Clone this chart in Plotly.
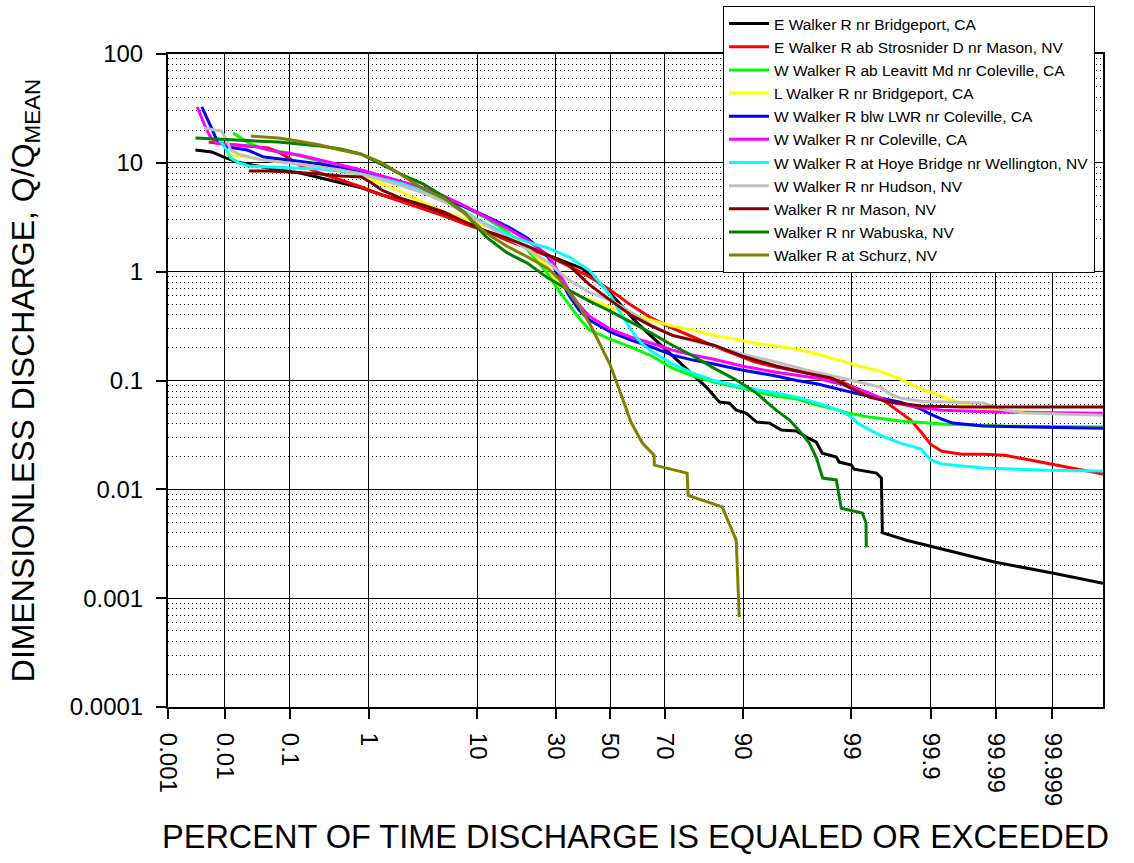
from statistics import NormalDist
import plotly.graph_objects as go

# ---------------- data (percent of time exceeded, Q/Qmean) ----------------
names = [
    "E Walker R nr Bridgeport, CA",
    "E Walker R ab Strosnider D nr Mason, NV",
    "W Walker R ab Leavitt Md nr Coleville, CA",
    "L Walker R nr Bridgeport, CA",
    "W Walker R blw LWR nr Coleville, CA",
    "W Walker R nr Coleville, CA",
    "W Walker R at Hoye Bridge nr Wellington, NV",
    "W Walker R nr Hudson, NV",
    "Walker R nr Mason, NV",
    "Walker R nr Wabuska, NV",
    "Walker R at Schurz, NV",
]
colors = ["#000000", "#FF0000", "#00FF00", "#FFFF00", "#0000FF", "#FF00FF",
          "#00FFFF", "#C0C0C0", "#800000", "#008000", "#808000"]

black_p = [0.00317, 0.0061, 0.0097, 0.0159, 0.0337, 0.0687, 0.135, 0.256, 0.466, 0.82,
           1.39, 2.275, 3.59, 5.48, 8.08, 11.51, 15.87, 21.19, 27.43, 34.46,
           39.4, 44.6, 50.0, 59.9, 69.9, 76.9, 82.3, 85.4, 87.5, 88.8,
           90.5, 92.1, 93.8, 95.06, 96.37, 97.08, 97.66, 97.96, 98.54, 98.64,
           99.0, 99.07, 99.49, 99.555, 99.567, 99.786, 99.90, 99.9899, 99.999, 99.9999]
black_q = [13.1, 12.6, 11.3, 10.2, 9.35, 8.6, 8.1, 7.25, 6.5, 5.9,
           5.06, 4.46, 3.84, 3.31, 2.86, 2.36, 2.04, 1.68, 1.42, 1.20,
           1.07, 0.837, 0.636, 0.344, 0.199, 0.13, 0.087, 0.0633, 0.062, 0.0534,
           0.0502, 0.0415, 0.0406, 0.035, 0.0343, 0.0302, 0.0271, 0.0215, 0.0198, 0.0178,
           0.0167, 0.0153, 0.0141, 0.0127, 0.0040, 0.00341, 0.0030, 0.00214, 0.0017, 0.00137]

red_p = [0.0054, 0.0097, 0.0233, 0.0483, 0.0687, 0.0968, 0.135, 0.256, 0.466, 0.82,
         1.39, 2.275, 3.59, 5.48, 8.08, 11.51, 15.87, 21.19, 27.43, 34.46,
         42.07, 50.0, 53.98, 57.93, 65.54, 72.57, 78.81, 84.13, 88.49, 91.92,
         94.52, 96.41, 97.725, 98.61, 99.18, 99.534, 99.653, 99.744, 99.813, 99.865,
         99.90, 99.931, 99.966, 99.984, 99.9928, 99.99683, 99.99867, 99.99946, 99.99979, 99.9999]
red_q = [15.5, 14.9, 14.3, 13.7, 12.6, 11.1, 9.55, 8.06, 6.95, 6.0,
         5.06, 4.37, 3.76, 3.24, 2.74, 2.36, 1.95, 1.65, 1.39, 1.13,
         0.90, 0.68, 0.58, 0.493, 0.374, 0.303, 0.251, 0.207, 0.175, 0.148,
         0.133, 0.122, 0.112, 0.1, 0.0834, 0.0689, 0.0594, 0.0512, 0.0433, 0.0335,
         0.026, 0.0224, 0.021, 0.021, 0.0206, 0.019, 0.0174, 0.016, 0.0147, 0.0138]

lime_p = [0.0137, 0.0233, 0.0337, 0.0483, 0.0968, 0.256, 0.466, 0.82, 1.39, 2.275,
          3.59, 5.48, 8.08, 11.51, 15.87, 21.19, 27.43, 30.85, 34.46, 38.21,
          42.07, 50.0, 57.93, 65.54, 72.57, 78.81, 84.13, 89.8, 94.52, 96.41,
          97.725, 98.61, 98.928, 99.379, 99.744, 99.931, 99.9928, 99.9999]
lime_q = [18.8, 15.5, 14.0, 13.1, 12.3, 10.4, 9.35, 8.23, 7.25, 6.52,
          5.75, 4.85, 3.93, 3.11, 2.36, 1.6, 0.95, 0.678, 0.504, 0.374,
          0.291, 0.24, 0.203, 0.168, 0.13, 0.11, 0.0967, 0.085, 0.072, 0.0675,
          0.0594, 0.0534, 0.050, 0.0461, 0.0424, 0.0398, 0.0381, 0.0373]

yellow_p = [0.0105, 0.0233, 0.0483, 0.0968, 0.256, 0.466, 0.82, 1.39, 2.275, 3.59,
            5.48, 8.08, 11.51, 15.87, 21.19, 27.43, 30.85, 38.21, 50.0, 57.93,
            65.54, 72.57, 78.81, 84.13, 88.49, 91.92, 94.52, 96.41, 97.725, 98.61,
            99.18, 99.534, 99.744, 99.865, 99.931, 99.966, 99.984, 99.9928, 99.99867, 99.9999]
yellow_q = [11.8, 11.3, 10.8, 10.2, 9.15, 8.4, 7.56, 6.45, 5.32, 4.29,
            3.54, 3.06, 2.63, 2.22, 1.65, 1.10, 0.753, 0.597, 0.473, 0.408,
            0.359, 0.316, 0.291, 0.26, 0.24, 0.22, 0.207, 0.194, 0.175, 0.154,
            0.136, 0.122, 0.103, 0.0834, 0.072, 0.0607, 0.0557, 0.0524, 0.0502, 0.049]

blue_p = [0.0041, 0.00481, 0.0059, 0.0074, 0.0108, 0.0233, 0.042, 0.0968, 0.256, 0.466,
          0.82, 1.39, 2.275, 3.59, 5.48, 8.08, 11.51, 15.87, 21.19, 27.43,
          30.85, 34.46, 38.21, 42.07, 50.0, 57.93, 65.54, 72.57, 78.81, 84.13,
          89.8, 94.52, 96.41, 97.725, 98.61, 99.18, 99.534, 99.744, 99.865, 99.90,
          99.931, 99.952, 99.984, 99.99867, 99.9999]
blue_q = [32.6, 27.5, 21.4, 16.2, 14.0, 13.1, 11.3, 10.6, 9.75, 8.96,
          8.06, 7.1, 6.25, 5.5, 4.75, 3.93, 3.24, 2.63, 2.04, 1.37,
          0.93, 0.61, 0.444, 0.359, 0.279, 0.235, 0.203, 0.171, 0.154, 0.142,
          0.125, 0.11, 0.1, 0.0927, 0.0834, 0.075, 0.069, 0.0633, 0.0546, 0.049,
          0.0442, 0.0406, 0.0381, 0.0373, 0.0365]

magenta_p = [0.0034, 0.0039, 0.00481, 0.0059, 0.00723, 0.0159, 0.0337, 0.0687, 0.135, 0.256,
             0.466, 0.82, 1.39, 2.275, 3.59, 5.48, 8.08, 11.51, 15.87, 21.19,
             27.43, 30.85, 34.46, 38.21, 42.07, 50.0, 57.93, 65.54, 72.57, 78.81,
             84.13, 89.8, 94.52, 97.725, 98.928, 99.379, 99.653, 99.813, 99.931, 99.9928,
             99.9999]
magenta_q = [32.6, 27.5, 20.9, 16.9, 15.2, 14.6, 14.0, 12.6, 11.8, 10.6,
             9.55, 8.6, 7.56, 6.66, 5.87, 4.95, 4.0, 3.17, 2.52, 1.95,
             1.42, 1.0, 0.678, 0.493, 0.39, 0.296, 0.25, 0.22, 0.19, 0.171,
             0.157, 0.136, 0.119, 0.105, 0.0888, 0.0766, 0.0633, 0.0582, 0.0534, 0.0512,
             0.050]

cyan_p = [0.0075, 0.0088, 0.0108, 0.0126, 0.0171, 0.025, 0.0483, 0.0968, 0.256, 0.466,
          0.82, 1.39, 2.275, 3.59, 5.48, 8.08, 11.51, 15.87, 21.19, 27.43,
          34.46, 42.07, 46.02, 50.0, 53.98, 57.93, 61.79, 65.54, 72.57, 78.81,
          84.13, 89.8, 94.52, 96.41, 97.725, 98.61, 98.928, 99.18, 99.534, 99.744,
          99.865, 99.90, 99.931, 99.984, 99.99867, 99.9999]
cyan_q = [17.0, 15.5, 13.1, 11.1, 10.0, 9.35, 9.15, 8.96, 8.77, 8.4,
          7.9, 7.1, 6.4, 5.5, 4.55, 3.53, 2.74, 2.22, 1.87, 1.65,
          1.37, 1.03, 0.80, 0.61, 0.417, 0.291, 0.22, 0.186, 0.142, 0.117,
          0.1, 0.087, 0.0766, 0.0704, 0.062, 0.0534, 0.0481, 0.0398, 0.0315, 0.0266,
          0.0234, 0.0186, 0.0171, 0.0157, 0.015, 0.0147]

gray_p = [0.0044, 0.00723, 0.0088, 0.0108, 0.0126, 0.0171, 0.0337, 0.0687, 0.135, 0.256,
          0.466, 0.82, 1.39, 2.275, 3.59, 5.48, 8.08, 11.51, 15.87, 21.19,
          27.43, 34.46, 42.07, 50.0, 57.93, 65.54, 72.57, 78.81, 84.13, 89.8,
          94.52, 97.06, 98.61, 99.18, 99.534, 99.653, 99.744, 99.865, 99.984, 99.9928,
          99.99683, 99.9999]
gray_q = [20.9, 20.0, 19.6, 16.2, 13.1, 12.0, 10.8, 10.2, 9.75, 9.15,
          8.6, 7.9, 6.95, 6.13, 5.28, 4.37, 3.46, 2.68, 2.08, 1.61,
          1.22, 0.837, 0.65, 0.548, 0.426, 0.323, 0.26, 0.23, 0.207, 0.175,
          0.148, 0.125, 0.107, 0.0967, 0.087, 0.075, 0.069, 0.0646, 0.062, 0.0534,
          0.0502, 0.048]

maroon_p = [0.0246, 0.0483, 0.0968, 0.256, 0.466, 0.82, 1.072, 1.39, 2.275, 3.59,
            5.48, 8.08, 11.51, 15.87, 21.19, 27.43, 34.46, 42.07, 50.0, 57.93,
            65.54, 72.57, 78.81, 84.13, 89.8, 94.52, 97.06, 98.39, 98.928, 99.379,
            99.653, 99.865, 99.966, 99.9999]
maroon_q = [8.4, 8.4, 8.23, 7.9, 7.56, 7.4, 6.52, 5.62, 4.65, 4.09,
            3.53, 2.86, 2.36, 2.04, 1.72, 1.42, 1.15, 0.76, 0.548, 0.40,
            0.316, 0.26, 0.235, 0.211, 0.168, 0.136, 0.117, 0.105, 0.087, 0.0704,
            0.0633, 0.0582, 0.057, 0.057]

green_p = [0.00317, 0.0159, 0.0687, 0.256, 0.466, 0.82, 1.39, 2.275, 3.59, 5.48,
           8.08, 11.51, 15.87, 21.19, 27.43, 34.46, 42.07, 50.0, 57.93, 65.54,
           72.57, 78.81, 84.13, 88.49, 91.92, 94.52, 95.82, 96.56, 97.26, 97.67,
           97.98, 98.54, 98.71, 99.25, 99.32, 99.325]
green_q = [16.9, 16.2, 15.5, 14.3, 13.4, 12.0, 9.55, 7.72, 6.38, 4.85,
           3.46, 2.1, 1.5, 1.2, 0.873, 0.678, 0.537, 0.434, 0.344, 0.272,
           0.211, 0.168, 0.13, 0.103, 0.0782, 0.0534, 0.0433, 0.035, 0.0266, 0.0194,
           0.0127, 0.0122, 0.0067, 0.00605, 0.0049, 0.00294]

olive_p = [0.0265, 0.0687, 0.135, 0.256, 0.466, 0.82, 1.39, 2.275, 3.59, 5.48,
           8.08, 11.51, 15.87, 21.19, 27.43, 30.85, 34.46, 38.21, 42.07, 46.02,
           50.0, 53.98, 57.93, 62.2, 66.4, 66.5, 77.1, 77.4, 86.0, 88.8,
           89.34]
olive_q = [17.6, 16.9, 15.8, 14.6, 13.1, 12.0, 10.0, 7.6, 5.75, 4.7,
           3.4, 2.27, 1.72, 1.37, 1.07, 0.873, 0.65, 0.483, 0.337, 0.22,
           0.139, 0.0766, 0.0415, 0.0266, 0.0206, 0.0167, 0.0141, 0.0088, 0.0069, 0.0034,
           0.00067]

series_p = [black_p, red_p, lime_p, yellow_p, blue_p, magenta_p, cyan_p, gray_p,
            maroon_p, green_p, olive_p]
series_q = [black_q, red_q, lime_q, yellow_q, blue_q, magenta_q, cyan_q, gray_q,
            maroon_q, green_q, olive_q]

x_tick_pct = [0.001, 0.01, 0.1, 1, 10, 30, 50, 70, 90, 99, 99.9, 99.99, 99.999]
x_tick_text = ["0.001", "0.01", "0.1", "1", "10", "30", "50", "70", "90",
               "99", "99.9", "99.99", "99.999"]
x_range_pct = [0.001, 99.9999]
y_tick_vals = [0.0001, 0.001, 0.01, 0.1, 1, 10, 100]
y_tick_text = ["0.0001", "0.001", "0.01", "0.1", "1", "10", "100"]

# ---------------- probability scale (standard normal deviate) ----------------
nd = NormalDist()


def zscore(pct):
    return nd.inv_cdf(pct / 100.0)


FONT = "Liberation Sans, Arial, Helvetica, sans-serif"

fig = go.Figure()
for name, col, pp, qq in zip(names, colors, series_p, series_q):
    fig.add_trace(go.Scatter(
        x=[zscore(p) for p in pp], y=qq, mode="lines", name=name,
        line=dict(color=col, width=3),
    ))

minor_vals = [m * 10 ** e for e in range(-4, 2) for m in range(2, 10)]

fig.update_layout(
    template="none",
    width=1134, height=863,
    margin=dict(l=168, r=31, t=54, b=156, autoexpand=False),
    paper_bgcolor="white", plot_bgcolor="white",
    font=dict(family=FONT, color="black"),
    showlegend=True,
    legend=dict(
        x=(723 - 168) / 935, y=(707 - 6) / 653, xanchor="left", yanchor="top",
        bgcolor="white", bordercolor="black", borderwidth=1,
        font=dict(size=15.5, family=FONT, color="black"),
        itemwidth=40, traceorder="normal",
    ),
    xaxis=dict(
        range=[zscore(x_range_pct[0]), zscore(x_range_pct[1])],
        tickmode="array", tickvals=[zscore(p) for p in x_tick_pct], ticktext=x_tick_text,
        tickangle=90, tickfont=dict(size=24),
        ticks="outside", ticklen=10, tickwidth=1.5, tickcolor="black",
        ticklabelstandoff=9,
        showline=True, linecolor="black", linewidth=2, mirror=True,
        showgrid=True, gridcolor="black", gridwidth=1,
        zeroline=False, automargin=False,
        title=dict(text="PERCENT OF TIME DISCHARGE IS EQUALED OR EXCEEDED",
                   font=dict(size=32.5), standoff=20),
    ),
    yaxis=dict(
        type="log", range=[-4, 2],
        tickmode="array", tickvals=y_tick_vals, ticktext=y_tick_text,
        tickfont=dict(size=24),
        ticks="outside", ticklen=10, tickwidth=1.5, tickcolor="black",
        ticklabelstandoff=8,
        showline=True, linecolor="black", linewidth=2, mirror=True,
        showgrid=True, gridcolor="black", gridwidth=1,
        minor=dict(tickvals=minor_vals, showgrid=True, gridcolor="black",
                   gridwidth=1, griddash="1px,3px", ticks=""),
        zeroline=False, automargin=False,
        title=dict(text="DIMENSIONLESS DISCHARGE, Q/Q<sub>MEAN</sub>",
                   font=dict(size=32), standoff=26),
    ),
)

fig.write_html("out.html")
